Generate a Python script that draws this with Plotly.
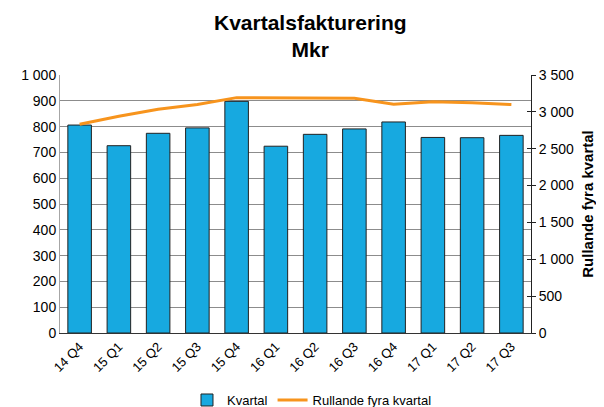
import plotly.graph_objects as go

categories = ["14 Q4", "15 Q1", "15 Q2", "15 Q3", "15 Q4", "16 Q1", "16 Q2", "16 Q3", "16 Q4", "17 Q1", "17 Q2", "17 Q3"]
kvartal = [806, 726, 774, 795, 898, 724, 770, 791, 818, 758, 757, 766]
rullande = [2831, 2940, 3034, 3100, 3193, 3191, 3187, 3183, 3103, 3137, 3124, 3099]
left_ticks = list(range(0, 1001, 100))
left_labels = ["0", "100", "200", "300", "400", "500", "600", "700", "800", "900", "1 000"]
right_ticks = list(range(0, 3501, 500))
right_labels = ["0", "500", "1 000", "1 500", "2 000", "2 500", "3 000", "3 500"]

font = "Liberation Sans, Arial, sans-serif"

fig = go.Figure()
fig.add_trace(go.Bar(
    x=categories, y=kvartal, name="Kvartal",
    marker=dict(color="#17A9E0", line=dict(color="#222222", width=1)),
    width=0.6, yaxis="y",
))
fig.add_trace(go.Scatter(
    x=categories, y=rullande, name="Rullande fyra kvartal",
    mode="lines", line=dict(color="#F7941D", width=3), yaxis="y2",
))

fig.add_annotation(
    text="<b>Kvartalsfakturering<br>Mkr</b>", xref="paper", yref="paper",
    x=0.532, y=1.255, xanchor="center", yanchor="top", showarrow=False,
    font=dict(size=21, family=font, color="black"),
)

fig.update_layout(
    width=596, height=399,
    margin=dict(l=52, r=73, t=67, b=74, autoexpand=False),
    paper_bgcolor="white", plot_bgcolor="white",
    font=dict(family=font, size=14, color="black"),
    showlegend=True,
    legend=dict(orientation="h", x=0.535, xanchor="center", y=-0.318, yanchor="bottom",
                font=dict(size=13), traceorder="normal", itemwidth=30),
    xaxis=dict(
        tickangle=-45, showline=True, linecolor="#333333", linewidth=1,
        ticks="", showgrid=False, tickfont=dict(size=13),
    ),
    yaxis=dict(
        range=[0, 1000], tickvals=left_ticks, ticktext=left_labels,
        showgrid=True, gridcolor="#8C8C8C", gridwidth=1,
        showline=True, linecolor="#A6A6A6", ticks="", zeroline=False,
        tickfont=dict(size=14),
    ),
    yaxis2=dict(
        range=[0, 3500], tickvals=right_ticks, ticktext=right_labels,
        overlaying="y", side="right", showgrid=False,
        showline=True, linecolor="#222222", linewidth=1,
        ticks="outside", ticklen=4, tickcolor="#222222",
        title=dict(text="<b>Rullande fyra kvartal</b>", font=dict(size=15), standoff=9),
        tickfont=dict(size=14), zeroline=False,
    ),
    yaxis3=dict(
        range=[0, 3500], tickvals=right_ticks, showticklabels=False,
        overlaying="y", side="right", showgrid=False, showline=False,
        ticks="inside", ticklen=4, tickcolor="#222222", zeroline=False,
    ),
)
fig.add_trace(go.Scatter(x=[categories[0]], y=[None], yaxis="y3", showlegend=False,
                         hoverinfo="skip", mode="lines"))

fig.write_html("out.html")
